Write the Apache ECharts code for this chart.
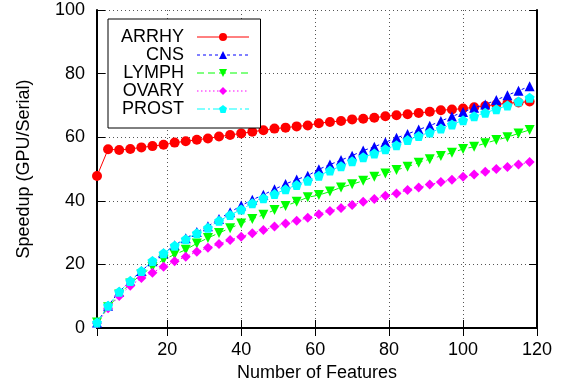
<!DOCTYPE html>
<html>
<head>
<meta charset="utf-8">
<script src="https://cdn.jsdelivr.net/npm/echarts@6/dist/echarts.min.js"></script>
<style>html,body{margin:0;padding:0;background:#fff;}#c{width:566px;height:388px;}</style>
</head>
<body>
<div id="c"></div>
<script>
var features = [1,4,7,10,13,16,19,22,25,28,31,34,37,40,43,46,49,52,55,58,61,64,67,70,73,76,79,82,85,88,91,94,97,100,103,106,109,112,115,118];
var arrhy = [47.8,56.2,56.0,56.3,56.8,57.2,57.6,58.3,58.7,59.2,59.6,60.2,60.7,61.2,61.7,62.2,62.7,63.0,63.4,63.7,64.4,64.8,65.1,65.6,65.8,66.1,66.6,66.9,67.2,67.6,68.0,68.5,68.7,69.0,69.4,69.8,70.3,70.7,70.9,71.2];
var cns = [1.7,7.0,11.4,14.8,17.9,21.0,23.5,26.0,28.2,30.2,32.0,34.3,36.4,38.5,40.3,41.9,43.6,45.3,46.7,47.9,49.9,51.4,52.8,54.2,55.8,57.0,58.4,59.8,61.0,62.4,63.6,65.1,66.5,67.9,69.3,70.3,71.7,73.2,74.6,76.0];
var lymph = [1.7,6.5,10.5,14.0,16.8,19.2,21.5,23.1,24.6,26.6,28.3,29.9,31.4,32.9,34.3,35.6,37.1,38.4,39.7,41.1,41.8,42.9,44.2,45.2,46.3,47.6,48.6,49.7,50.7,52.0,53.1,54.1,55.1,56.3,57.0,58.1,59.1,60.0,61.2,62.3];
var ovary = [1.5,6.2,10.1,13.3,15.7,17.4,19.3,21.0,22.4,24.0,25.2,26.4,27.7,28.7,29.8,30.8,31.9,32.9,33.7,34.7,35.8,36.8,37.7,38.7,39.7,40.6,41.6,42.3,43.4,44.2,45.1,45.9,46.6,47.6,48.3,49.1,50.0,50.6,51.4,52.2];
var prost = [1.7,7.0,11.4,14.8,17.9,21.1,23.5,25.9,27.9,29.8,31.5,33.7,35.5,37.3,39.2,40.8,42.1,43.6,45.0,46.3,47.9,49.5,50.9,52.4,53.7,54.9,56.2,57.5,59.1,60.4,61.5,62.7,64.0,65.3,66.6,67.7,68.8,70.0,71.2,72.4];
var seriesNames = ['ARRHY','CNS','LYMPH','OVARY','PROST'];
var seriesValues = [arrhy, cns, lymph, ovary, prost];

var FONT = '"Liberation Sans", Arial, Helvetica, sans-serif';
var colors = ['#ff0000','#0000ff','#00ff00','#ff00ff','#00ffff'];
var dashes = ['solid',[3,3],[7,4],[1.5,2.5],[8,3,2,3]];
var symbols = [
  'circle',
  'triangle',
  'path://M0,0 L2,0 L1,1.8 Z',
  'diamond',
  'path://M0,-1 L0.951,-0.309 L0.588,0.809 L-0.588,0.809 L-0.951,-0.309 Z'
];
var sizes = [10, 10, 10, 10, 10];

function pairs(vals){ return features.map(function(x,i){ return [x, vals[i]]; }); }

var series = seriesNames.map(function(n, i){
  return {
    name: n, type: 'line', data: pairs(seriesValues[i]),
    symbol: symbols[i], symbolSize: sizes[i], showAllSymbol: true,
    lineStyle: {color: colors[i], width: 1, type: dashes[i]},
    itemStyle: {color: colors[i]},
    emphasis: {disabled: true}, animation: false, z: 2 + i
  };
});

var gridLine = {show: true, lineStyle: {color: '#555', width: 1, type: [1,3]}};
var axisBase = {
  axisLine: {show: true, lineStyle: {color: '#000', width: 2}},
  axisTick: {show: true, inside: true, length: 8, lineStyle: {color: '#000', width: 1}}
};

var chart = echarts.init(document.getElementById('c'), null, {renderer: 'canvas'});
chart.setOption({
  animation: false,
  backgroundColor: '#fff',
  grid: {left: 97, right: 29, top: 10, bottom: 60, containLabel: false},
  legend: {
    orient: 'vertical', left: 108, top: 19,
    align: 'right',
    itemWidth: 52, itemHeight: 10, itemGap: 0,
    padding: [9, 11, 10, 13],
    backgroundColor: '#fff', borderColor: '#000', borderWidth: 1,
    lineStyle: {width: 1},
    textStyle: {fontFamily: FONT, fontSize: 18, color: '#000', width: 62, align: 'right', lineHeight: 18, padding: [0, 8, 0, 0]},
    data: seriesNames
  },
  xAxis: [
    Object.assign({}, axisBase, {
      type: 'value', min: 1, max: 120,
      name: 'Number of Features', nameLocation: 'middle', nameGap: 36,
      nameTextStyle: {fontFamily: FONT, fontSize: 18, color: '#000'},
      axisLabel: {fontFamily: FONT, fontSize: 18, color: '#000', margin: 13, showMinLabel: false},
      splitLine: gridLine
    }),
    Object.assign({}, axisBase, {
      type: 'value', min: 1, max: 120, position: 'top',
      axisLabel: {show: false}, splitLine: {show: false}
    })
  ],
  yAxis: [
    Object.assign({}, axisBase, {
      type: 'value', min: 0, max: 100, interval: 20,
      name: 'Speedup (GPU/Serial)', nameLocation: 'middle', nameGap: 64,
      nameTextStyle: {fontFamily: FONT, fontSize: 18, color: '#000'},
      axisLabel: {fontFamily: FONT, fontSize: 18, color: '#000', margin: 12},
      splitLine: gridLine
    }),
    Object.assign({}, axisBase, {
      type: 'value', min: 0, max: 100, interval: 20, position: 'right',
      axisLabel: {show: false}, splitLine: {show: false}
    })
  ],
  series: series
});
</script>
</body>
</html>
